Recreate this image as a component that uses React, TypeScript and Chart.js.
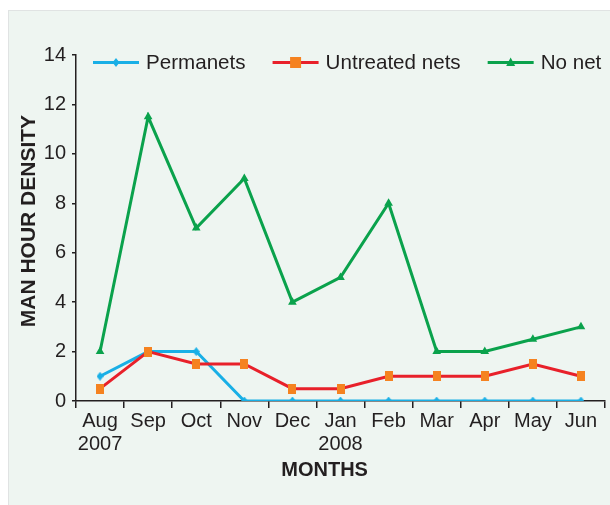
import React, { useEffect, useRef } from "react";
import { Chart, registerables } from "chart.js";

Chart.register(...registerables);

const months = ["Aug", "Sep", "Oct", "Nov", "Dec", "Jan", "Feb", "Mar", "Apr", "May", "Jun"];
const years = ["2007", "", "", "", "", "2008", "", "", "", "", ""];
const permanets = [1, 2, 2, 0, 0, 0, 0, 0, 0, 0, 0];
const untreatedNets = [0.5, 2, 1.5, 1.5, 0.5, 0.5, 1, 1, 1, 1.5, 1];
const noNet = [2, 11.5, 7, 9, 4, 5, 8, 2, 2, 2.5, 3];
const yTicks = [0, 2, 4, 6, 8, 10, 12, 14];

const FONT = "'Liberation Sans', Arial, Helvetica, sans-serif";
const TEXT = "#231f20";
const BLUE = "#19afe6";
const RED = "#e8202a";
const ORANGE = "#f58220";
const GREEN = "#0aa24c";

function makeRect(): HTMLCanvasElement {
  const c = document.createElement("canvas");
  c.width = 8;
  c.height = 10;
  const g = c.getContext("2d")!;
  g.fillStyle = ORANGE;
  g.fillRect(0, 0, 8, 10);
  return c;
}

function makeDiamond(w: number, h: number): HTMLCanvasElement {
  const c = document.createElement("canvas");
  c.width = w;
  c.height = h;
  const g = c.getContext("2d")!;
  g.fillStyle = BLUE;
  g.beginPath();
  g.moveTo(w / 2, 0);
  g.lineTo(w, h / 2);
  g.lineTo(w / 2, h);
  g.lineTo(0, h / 2);
  g.closePath();
  g.fill();
  return c;
}

function drawMarker(ctx: CanvasRenderingContext2D, kind: string, x: number, y: number) {
  ctx.save();
  if (kind === "diamond") {
    ctx.fillStyle = BLUE;
    ctx.beginPath();
    ctx.moveTo(x, y - 4.5);
    ctx.lineTo(x + 3.5, y);
    ctx.lineTo(x, y + 4.5);
    ctx.lineTo(x - 3.5, y);
    ctx.closePath();
    ctx.fill();
  } else if (kind === "rect") {
    ctx.fillStyle = ORANGE;
    ctx.fillRect(x - 5.5, y - 5.5, 11, 11);
  } else if (kind === "triangle") {
    ctx.fillStyle = GREEN;
    ctx.beginPath();
    ctx.moveTo(x, y - 5);
    ctx.lineTo(x + 4.5, y + 3.5);
    ctx.lineTo(x - 4.5, y + 3.5);
    ctx.closePath();
    ctx.fill();
  }
  ctx.restore();
}

export default function App() {
  const ref = useRef<HTMLCanvasElement | null>(null);

  useEffect(() => {
    if (!ref.current) return;
    const rectImg = makeRect();
    const diamondImg = makeDiamond(7, 9);
    const kinds = ["diamond", "rect", "triangle"];

    const legendPlugin = {
      id: "customLegend",
      afterDraw(chart: any) {
        const ctx: CanvasRenderingContext2D = chart.ctx;
        const area = chart.chartArea;
        const y = area.top + 7.5;
        let x = area.left + 17;
        ctx.save();
        ctx.font = `20.6px ${FONT}`;
        ctx.textBaseline = "middle";
        ctx.textAlign = "left";
        chart.data.datasets.forEach((ds: any, i: number) => {
          ctx.strokeStyle = ds.borderColor;
          ctx.lineWidth = 3;
          ctx.beginPath();
          ctx.moveTo(x, y);
          ctx.lineTo(x + 46, y);
          ctx.stroke();
          drawMarker(ctx, kinds[i], x + 23, y);
          ctx.fillStyle = TEXT;
          ctx.fillText(ds.label, x + 53, y + 1);
          x += 53 + ctx.measureText(ds.label).width + 27;
        });
        // x-axis title
        ctx.font = `bold 20px ${FONT}`;
        ctx.textAlign = "center";
        ctx.fillText("MONTHS", area.left + (area.right - area.left) * 0.47, 470);
        // y-axis title
        ctx.font = `bold 21px ${FONT}`;
        ctx.translate(29, area.top + (area.bottom - area.top) * 0.48);
        ctx.rotate(-Math.PI / 2);
        ctx.fillText("MAN HOUR DENSITY", 0, 0);
        ctx.restore();
      },
    };

    const labels = months.map((m, i) => (years[i] ? [m, years[i]] : m));

    const chart = new Chart(ref.current, {
      type: "line",
      data: {
        labels,
        datasets: [
          {
            label: "Permanets",
            data: permanets,
            borderColor: BLUE,
            backgroundColor: BLUE,
            borderWidth: 3,
            pointStyle: diamondImg as any,
            pointRadius: 5,
            pointBorderWidth: 0,
            tension: 0,
            order: 2,
          },
          {
            label: "Untreated nets",
            data: untreatedNets,
            borderColor: RED,
            backgroundColor: ORANGE,
            borderWidth: 3,
            pointStyle: rectImg as any,
            pointRadius: 5,
            pointBorderWidth: 0,
            tension: 0,
            order: 1,
          },
          {
            label: "No net",
            data: noNet,
            borderColor: GREEN,
            backgroundColor: GREEN,
            borderWidth: 3,
            pointStyle: "triangle",
            pointRadius: 5,
            pointBorderWidth: 0,
            tension: 0,
            order: 3,
          },
        ],
      },
      options: {
        responsive: false,
        animation: false,
        devicePixelRatio: 1,
        layout: { padding: { top: 55, right: 4, left: 0, bottom: 0 } },
        plugins: {
          legend: { display: false },
          tooltip: { enabled: false },
        },
        scales: {
          x: {
            offset: true,
            grid: { offset: true, drawOnChartArea: false, tickLength: 7, color: TEXT, lineWidth: 1.5 },
            border: { color: TEXT, width: 1.5 },
            ticks: {
              color: TEXT,
              font: { family: FONT, size: 20, lineHeight: 1.15 },
              padding: 2,
              maxRotation: 0,
              autoSkip: false,
            },
            afterFit(scale: any) {
              scale.height = 104;
            },
          },
          y: {
            min: 0,
            max: 14,
            afterBuildTicks(scale: any) {
              scale.ticks = yTicks.map((v) => ({ value: v }));
            },
            grid: { drawOnChartArea: false, tickLength: 4, color: TEXT, lineWidth: 1.5 },
            border: { color: TEXT, width: 1.5 },
            ticks: {
              color: TEXT,
              font: { family: FONT, size: 20 },
              padding: 6,
            },
            afterFit(scale: any) {
              scale.width = 76;
            },
          },
        },
      },
      plugins: [legendPlugin],
    });
    return () => chart.destroy();
  }, []);

  return (
    <div style={{ position: "absolute", left: 0, top: 0, width: 610, height: 505, background: "#ffffff", overflow: "hidden" }}>
      <div
        style={{
          position: "absolute",
          left: 8,
          top: 10,
          width: 620,
          height: 520,
          background: "#eef5f1",
          border: "1px solid #e0e3e3",
          boxSizing: "border-box",
        }}
      />
      <canvas ref={ref} width={610} height={505} style={{ position: "absolute", left: 0, top: 0, width: 610, height: 505, display: "block" }} />
    </div>
  );
}
